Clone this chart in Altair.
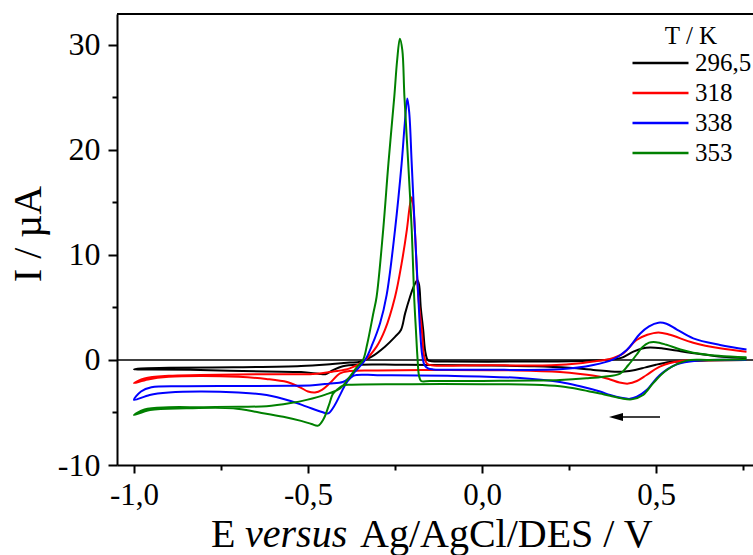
import altair as alt
import pandas as pd

FONT = "Liberation Serif"

TEMPS = ["296,5", "318", "338", "353"]
COLORS = ["#000000", "#ff0000", "#0000ff", "#008000"]

# --- T = 296,5 K (forward scan 0.76 -> -1.0, then return) ---
E_2965 = [0.76, 0.65, 0.58, 0.54, 0.50, 0.47, 0.44, 0.41, 0.37, 0.32, 0.25, 0.15, 0.0, -0.15, -0.25,
          -0.35, -0.40, -0.43, -0.45, -0.47, -0.52, -0.62, -0.81, -0.95, -1.0,
          -0.98, -0.9, -0.715, -0.52, -0.43, -0.38, -0.35, -0.317, -0.279, -0.25, -0.233, -0.221, -0.207,
          -0.195, -0.186, -0.181, -0.176, -0.169, -0.163, -0.156, -0.145, -0.1, 0.1, 0.25, 0.32, 0.37,
          0.40, 0.435, 0.46, 0.483, 0.52, 0.559, 0.626, 0.69, 0.76]
I_2965 = [0.0, -0.05, -0.12, -0.2, -0.45, -0.7, -0.95, -1.1, -1.1, -0.95, -0.75, -0.6, -0.52, -0.48, -0.45,
          -0.45, -0.6, -1.0, -1.35, -1.3, -1.15, -1.1, -0.95, -0.9, -0.89,
          -0.8, -0.75, -0.7, -0.57, -0.38, -0.25, -0.16, 0.32, 1.27, 2.2, 2.86, 4.44, 6.0,
          7.1, 7.6, 7.2, 5.0, 2.86, 0.8, 0.0, -0.12, -0.15, -0.15, -0.12, -0.05, 0.05,
          0.2, 0.8, 1.1, 1.2, 1.1, 0.9, 0.57, 0.3, 0.16]

# --- T = 318 K ---
E_318 = [0.76, 0.65, 0.569, 0.511, 0.473, 0.445, 0.42, 0.395, 0.368, 0.34, 0.282, 0.224, 0.1, -0.1, -0.3,
         -0.38, -0.408, -0.437, -0.46, -0.48, -0.50, -0.523, -0.56, -0.62, -0.7, -0.81, -0.9, -0.96, -1.0,
         -0.97, -0.9, -0.81, -0.6, -0.486, -0.428, -0.38, -0.336, -0.303, -0.279, -0.25, -0.231, -0.216,
         -0.207, -0.202, -0.198, -0.193, -0.183, -0.173, -0.166, -0.158, -0.145, 0.0, 0.2, 0.282, 0.33,
         0.368, 0.406, 0.444, 0.475, 0.507, 0.54, 0.607, 0.684, 0.76]
I_318 = [0.0, -0.02, -0.1, -0.63, -1.43, -2.0, -2.25, -2.15, -1.85, -1.6, -1.33, -1.15, -1.0, -0.95, -1.0,
         -1.05, -1.27, -2.2, -2.85, -3.1, -3.0, -2.6, -2.1, -1.8, -1.6, -1.52, -1.6, -1.85, -2.2,
         -1.75, -1.5, -1.43, -1.35, -1.33, -1.1, -0.8, 0.0, 1.27, 2.86, 6.0, 9.2, 12.4,
         14.8, 15.5, 14.8, 12.4, 6.0, 2.86, 0.3, -0.35, -0.5, -0.5, -0.5, -0.32, -0.1,
         0.1, 0.63, 1.9, 2.4, 2.63, 2.4, 1.65, 1.11, 0.79]

# --- T = 338 K ---
E_338 = [0.76, 0.62, 0.56, 0.511, 0.473, 0.445, 0.425, 0.40, 0.368, 0.339, 0.282, 0.224, 0.1, -0.1, -0.3,
         -0.37, -0.39, -0.406, -0.425, -0.442, -0.46, -0.504, -0.55, -0.619, -0.7, -0.81, -0.9, -0.955, -1.0,
         -0.98, -0.95, -0.85, -0.7, -0.55, -0.486, -0.44, -0.40, -0.385, -0.365, -0.336, -0.315, -0.293,
         -0.274, -0.25, -0.231, -0.222, -0.2146, -0.209, -0.202, -0.193, -0.183, -0.178, -0.172, -0.165,
         -0.155, -0.14, 0.0, 0.224, 0.32, 0.377, 0.416, 0.454, 0.48, 0.507, 0.53, 0.56, 0.607, 0.684, 0.76]
I_338 = [0.0, -0.05, -0.4, -1.43, -2.86, -3.5, -3.7, -3.6, -3.33, -3.0, -2.5, -2.1, -1.7, -1.5, -1.45,
         -1.5, -2.2, -3.2, -4.4, -5.08, -4.95, -4.44, -3.9, -3.33, -3.1, -3.0, -3.1, -3.33, -3.8,
         -3.0, -2.6, -2.5, -2.48, -2.45, -2.4, -2.25, -2.1, -1.8, -1.1, 0.0, 1.5, 3.5,
         6.2, 12.4, 18.7, 22.5, 24.9, 23.5, 18.7, 12.4, 6.0, 2.86, 0.5, -0.5,
         -0.8, -0.9, -0.92, -0.89, -0.48, 0.06, 0.95, 2.5, 3.2, 3.55, 3.45, 2.9, 2.06, 1.43, 1.0]

# --- T = 353 K ---
E_353 = [0.76, 0.65, 0.588, 0.531, 0.492, 0.463, 0.43, 0.40, 0.368, 0.339, 0.282, 0.224, 0.15, 0.0, -0.2,
         -0.38, -0.40, -0.415, -0.428, -0.44, -0.455, -0.471, -0.49, -0.52, -0.571, -0.64, -0.715, -0.85,
         -0.954, -1.0,
         -0.97, -0.9, -0.8, -0.7, -0.619, -0.55, -0.504, -0.45, -0.408, -0.38, -0.36, -0.342, -0.33,
         -0.312, -0.303, -0.284, -0.269, -0.252, -0.244, -0.236, -0.229, -0.223, -0.212, -0.202, -0.195,
         -0.19, -0.185, -0.181, -0.175, -0.15, 0.0, 0.15, 0.224, 0.3, 0.35, 0.397, 0.42, 0.444, 0.46,
         0.48, 0.50, 0.53, 0.57, 0.607, 0.68, 0.76]
I_353 = [0.05, 0.0, -0.06, -0.95, -2.2, -3.33, -3.75, -3.65, -3.4, -3.2, -2.8, -2.5, -2.35, -2.3, -2.3,
         -2.35, -2.45, -2.8, -3.2, -4.3, -5.6, -6.25, -6.1, -5.8, -5.4, -5.0, -4.6, -4.6,
         -4.76, -5.24,
         -4.7, -4.5, -4.5, -4.45, -4.4, -4.1, -3.8, -3.3, -2.7, -1.6, -0.7, 0.0, 1.5,
         4.5, 6.0, 12.4, 18.7, 25.1, 28.5, 30.6, 29.5, 25.1, 18.7, 12.4, 6.0,
         2.9, 0.0, -1.5, -2.0, -2.0, -2.0, -1.95, -1.9, -1.75, -1.6, -1.3, -0.5, 0.5, 1.2,
         1.65, 1.7, 1.45, 1.0, 0.7, 0.4, 0.25]

# scan-direction arrow (annotation)
ARROW_E = [0.385, 0.5115]
ARROW_I = [-5.43, -5.43]
HEAD_E = [0.385]
HEAD_I = [-5.43]

X_MAJOR = [-1.0, -0.5, 0.0, 0.5]
X_MINOR = [-0.75, -0.25, 0.25, 0.75]
Y_MAJOR = [-10, 0, 10, 20, 30]
Y_MINOR = [-5, 5, 15, 25]

rows = []
for t, es, ivals in [(TEMPS[0], E_2965, I_2965), (TEMPS[1], E_318, I_318),
                     (TEMPS[2], E_338, I_338), (TEMPS[3], E_353, I_353)]:
    for k, (e, i) in enumerate(zip(es, ivals)):
        rows.append({"T": t, "E": e, "I": i, "k": k})
df = pd.DataFrame(rows)

W, H = 636, 451
xs = alt.Scale(domain=[-1.0489, 0.7787], nice=False, zero=False)
ys = alt.Scale(domain=[-10, 32.95], nice=False, zero=False)

x_lab = "(datum.value < 0 ? '-' : '') + replace(format(abs(datum.value), '.1f'), '.', ',')"
y_lab = "(datum.value < 0 ? '-' : '') + format(abs(datum.value), 'd')"

curves = alt.Chart(df).mark_line(strokeWidth=2, interpolate="catmull-rom").encode(
    x=alt.X("E:Q", scale=xs, axis=alt.Axis(
        values=X_MAJOR, title=None, labelExpr=x_lab, orient="bottom",
        tickSize=8, tickWidth=2, tickColor="black", domainWidth=2, domainColor="black",
        labelFont=FONT, labelFontSize=31, labelColor="black", labelPadding=7,
        grid=False, labelFlush=False, labelOverlap=False)),
    y=alt.Y("I:Q", scale=ys, axis=alt.Axis(
        values=Y_MAJOR, labelExpr=y_lab, orient="left",
        tickSize=9, tickWidth=2, tickColor="black", domainWidth=2, domainColor="black",
        labelFont=FONT, labelFontSize=32, labelColor="black", labelPadding=8,
        grid=False, labelFlush=False, labelOverlap=False,
        title="I / µA", titleFont=FONT, titleFontSize=40, titleFontWeight="normal",
        titleColor="black", titleAngle=270, titleAlign="center", titleBaseline="alphabetic",
        titleX=-77, titleY=219.5)),
    color=alt.Color("T:N", scale=alt.Scale(domain=TEMPS, range=COLORS), legend=alt.Legend(
        title="T / K", orient="none", legendX=514, legendY=10, padding=0,
        symbolType="stroke", symbolSize=3136, symbolStrokeWidth=2.5,
        labelFont=FONT, labelFontSize=25, labelColor="black", labelOffset=5,
        titleFont=FONT, titleFontSize=25, titleFontWeight="normal", titleColor="black",
        titleAnchor="middle", titlePadding=0, clipHeight=28, rowPadding=2)),
    order="k:Q",
)

one = pd.DataFrame({"a": [0]})

zero_line = alt.Chart(pd.DataFrame({"v": [0.0]})).mark_rule(color="black", strokeWidth=1.5).encode(
    y=alt.Y("v:Q", scale=ys, axis=None))

top_border = alt.Chart(one).mark_rule(color="black", strokeWidth=2).encode(
    x=alt.value(0), x2=alt.value(W), y=alt.value(0))

arrow_line = alt.Chart(pd.DataFrame({"E": ARROW_E, "I": ARROW_I})).mark_line(
    color="black", strokeWidth=1.5).encode(
    x=alt.X("E:Q", scale=xs, axis=alt.Axis(
        values=X_MINOR, labels=False, tickSize=5, tickWidth=2, tickColor="black",
        domain=False, title=None, grid=False, orient="bottom")),
    y=alt.Y("I:Q", scale=ys, axis=alt.Axis(
        values=Y_MINOR, labels=False, tickSize=5, tickWidth=2, tickColor="black",
        domain=False, title=None, grid=False, orient="left")),
)

arrow_head = alt.Chart(pd.DataFrame({"E": HEAD_E, "I": HEAD_I})).mark_point(
    shape="M -1 0 L 1 -0.57 L 1 0.57 Z", size=196, filled=True, color="black", opacity=1,
    strokeWidth=0).encode(
    x=alt.X("E:Q", scale=xs, axis=None),
    y=alt.Y("I:Q", scale=ys, axis=None),
)

title_base = dict(font=FONT, fontSize=40, color="black", baseline="alphabetic", align="left")
t1 = alt.Chart(one).mark_text(text="E", **title_base).encode(x=alt.value(94), y=alt.value(533))
t2 = alt.Chart(one).mark_text(text="versus", fontStyle="italic", **title_base).encode(
    x=alt.value(128), y=alt.value(533))
t3 = alt.Chart(one).mark_text(text="Ag/AgCl/DES / V", **title_base).encode(
    x=alt.value(243), y=alt.value(533))

chart = alt.layer(zero_line, curves, top_border, arrow_line, arrow_head, t1, t2, t3).resolve_axis(
    x="independent", y="independent"
).properties(
    width=W, height=H,
    autosize=alt.AutoSizeParams(type="none"),
    padding={"left": 117, "top": 14, "right": 0, "bottom": 90},
    background="white",
).configure_view(stroke=None)

chart.save("out.html", embed_options={"renderer": "svg", "actions": False})
